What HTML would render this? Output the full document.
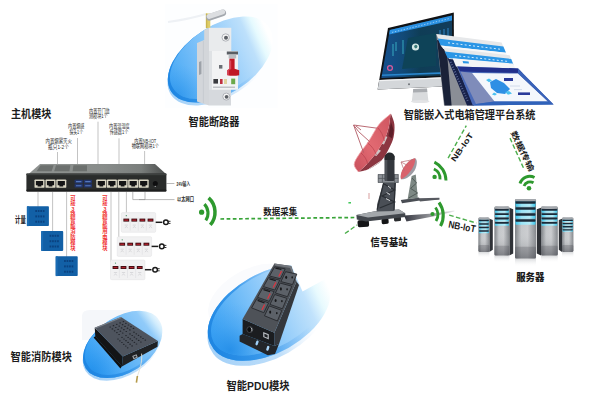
<!DOCTYPE html>
<html lang="zh">
<head>
<meta charset="utf-8">
<title>智能嵌入式电箱管理平台系统</title>
<style>
html,body{margin:0;padding:0;background:#fff;}
body{width:600px;height:400px;overflow:hidden;position:relative;font-family:"Liberation Sans","Noto Sans CJK SC",sans-serif;}
svg{position:absolute;left:0;top:0;display:block;}
text{font-family:"Liberation Sans","Noto Sans CJK SC",sans-serif;}
.t{font-weight:700;fill:#1c1c1c;}
.s{font-size:5.3px;fill:#2a2a2a;font-weight:400;}
.r{font-size:5.3px;fill:#f03030;font-weight:700;}
</style>
</head>
<body>
<svg width="600" height="400" viewBox="0 0 600 400">
<defs>
  <linearGradient id="gR1" gradientUnits="userSpaceOnUse" x1="168" y1="85" x2="270.7" y2="40.4">
    <stop offset="0" stop-color="#43a6f5"/>
    <stop offset="0.15" stop-color="#59b1f6"/>
    <stop offset="0.3" stop-color="#70bbf8"/>
    <stop offset="0.45" stop-color="#86c6f9"/>
    <stop offset="0.6" stop-color="#9cd0fa"/>
    <stop offset="0.75" stop-color="#b3dbfb"/>
    <stop offset="0.82" stop-color="#bde0fb"/>
    <stop offset="0.91" stop-color="#e6fafe"/>
    <stop offset="1.0" stop-color="#ffffff"/>
  </linearGradient>
  <linearGradient id="gD1" gradientUnits="userSpaceOnUse" x1="168" y1="85" x2="270.7" y2="40.4">
    <stop offset="0" stop-color="#1f86e2" stop-opacity="1"/>
    <stop offset="0.35" stop-color="#2f92e8" stop-opacity="0.8"/>
    <stop offset="0.75" stop-color="#7ab9f6" stop-opacity="0"/>
  </linearGradient>
  <linearGradient id="gB1" gradientUnits="userSpaceOnUse" x1="168" y1="85" x2="270.7" y2="40.4">
    <stop offset="0" stop-color="#a6d2f8" stop-opacity="1"/>
    <stop offset="0.45" stop-color="#b8dbf9" stop-opacity="0.9"/>
    <stop offset="0.8" stop-color="#e8f2fd" stop-opacity="0"/>
  </linearGradient>
  <linearGradient id="gR2" gradientUnits="userSpaceOnUse" x1="88" y1="368" x2="162.6" y2="314.2">
    <stop offset="0" stop-color="#2a9bf4"/>
    <stop offset="0.15" stop-color="#3ea4f5"/>
    <stop offset="0.3" stop-color="#52adf6"/>
    <stop offset="0.45" stop-color="#66b7f7"/>
    <stop offset="0.6" stop-color="#79c0f8"/>
    <stop offset="0.75" stop-color="#8dc9f9"/>
    <stop offset="0.78" stop-color="#91cbf9"/>
    <stop offset="0.88" stop-color="#d0ecfd"/>
    <stop offset="0.98" stop-color="#ffffff"/>
  </linearGradient>
  <linearGradient id="gD2" gradientUnits="userSpaceOnUse" x1="88" y1="368" x2="162.6" y2="314.2">
    <stop offset="0" stop-color="#1f86e2" stop-opacity="1"/>
    <stop offset="0.35" stop-color="#2f92e8" stop-opacity="0.8"/>
    <stop offset="0.75" stop-color="#7ab9f6" stop-opacity="0"/>
  </linearGradient>
  <linearGradient id="gB2" gradientUnits="userSpaceOnUse" x1="88" y1="368" x2="162.6" y2="314.2">
    <stop offset="0" stop-color="#a6d2f8" stop-opacity="1"/>
    <stop offset="0.45" stop-color="#b8dbf9" stop-opacity="0.9"/>
    <stop offset="0.8" stop-color="#e8f2fd" stop-opacity="0"/>
  </linearGradient>
  <linearGradient id="gR3" gradientUnits="userSpaceOnUse" x1="212" y1="345" x2="330.6" y2="291.6">
    <stop offset="0" stop-color="#36a0f5"/>
    <stop offset="0.15" stop-color="#50adf6"/>
    <stop offset="0.3" stop-color="#6ab9f7"/>
    <stop offset="0.45" stop-color="#84c5f9"/>
    <stop offset="0.6" stop-color="#9ed1fa"/>
    <stop offset="0.75" stop-color="#b8defb"/>
    <stop offset="0.8" stop-color="#c1e2fc"/>
    <stop offset="0.9" stop-color="#e8fafe"/>
    <stop offset="1.0" stop-color="#ffffff"/>
  </linearGradient>
  <linearGradient id="gD3" gradientUnits="userSpaceOnUse" x1="212" y1="345" x2="330.6" y2="291.6">
    <stop offset="0" stop-color="#1f86e2" stop-opacity="1"/>
    <stop offset="0.35" stop-color="#2f92e8" stop-opacity="0.8"/>
    <stop offset="0.75" stop-color="#7ab9f6" stop-opacity="0"/>
  </linearGradient>
  <linearGradient id="gB3" gradientUnits="userSpaceOnUse" x1="212" y1="345" x2="330.6" y2="291.6">
    <stop offset="0" stop-color="#a6d2f8" stop-opacity="1"/>
    <stop offset="0.45" stop-color="#b8dbf9" stop-opacity="0.9"/>
    <stop offset="0.8" stop-color="#e8f2fd" stop-opacity="0"/>
  </linearGradient>
  <radialGradient id="gO1" gradientUnits="userSpaceOnUse" cx="176" cy="98" r="34">
    <stop offset="0" stop-color="#1f8ae6" stop-opacity="0.6"/>
    <stop offset="0.5" stop-color="#2a92ea" stop-opacity="0.3"/>
    <stop offset="1" stop-color="#3a9cf0" stop-opacity="0"/>
  </radialGradient>
  <radialGradient id="gO2" gradientUnits="userSpaceOnUse" cx="92" cy="372" r="30">
    <stop offset="0" stop-color="#1f8ae6" stop-opacity="0.6"/>
    <stop offset="0.5" stop-color="#2a92ea" stop-opacity="0.3"/>
    <stop offset="1" stop-color="#3a9cf0" stop-opacity="0"/>
  </radialGradient>
  <radialGradient id="gO3" gradientUnits="userSpaceOnUse" cx="230" cy="350" r="48">
    <stop offset="0" stop-color="#1f8ae6" stop-opacity="0.8"/>
    <stop offset="0.5" stop-color="#2a92ea" stop-opacity="0.3"/>
    <stop offset="1" stop-color="#3a9cf0" stop-opacity="0"/>
  </radialGradient>
  <g id="wifi" fill="none" stroke="#2f9a2f" stroke-linecap="butt">
    <circle cx="0" cy="0" r="2" fill="#2f9a2f" stroke="none"/>
    <path d="M-3.5 -3.5 A4.95 4.95 0 0 1 3.5 -3.5" stroke-width="2.3"/>
    <path d="M-6.4 -6.4 A9.05 9.05 0 0 1 6.4 -6.4" stroke-width="2.3"/>
    <path d="M-9.3 -9.3 A13.15 13.15 0 0 1 9.3 -9.3" stroke-width="2.3"/>
  </g>
</defs>
<rect width="600" height="400" fill="#fff"/>
<!-- ellipses -->
<g id="ell-breaker">
  <path d="M165 4H277.6V108H165Z" fill="#fdfeff"/>
  <path d="M168 22Q190 19 206 14" stroke="#eef1f5" stroke-width="2" fill="none"/>
  <path d="M170.8 94.5A58.2 33.9 -32.5 1 0 269.0 31.9A58.2 33.9 -32.5 1 0 170.8 94.5Z" fill="url(#gB1)"/>
  <path d="M171.1 91.5A58.2 33.9 -32.5 1 0 269.3 28.9A58.2 33.9 -32.5 1 0 171.1 91.5Z" fill="url(#gR1)"/>
  <path d="M171.1 91.5A58.2 33.9 -32.5 1 0 269.3 28.9A58.2 33.9 -32.5 1 0 171.1 91.5Z" fill="url(#gD1)"/>
  <path d="M173.3 88.3A56.800000000000004 31.9 -32.5 1 0 269.1 27.3A56.800000000000004 31.9 -32.5 1 0 173.3 88.3Z" fill="url(#gR1)"/>
  <path d="M173.3 88.3A56.800000000000004 31.9 -32.5 1 0 269.1 27.3A56.800000000000004 31.9 -32.5 1 0 173.3 88.3Z" fill="url(#gO1)"/>
</g>
<g id="ell-fire">
  <path d="M82 316Q82 310 90 310H130V340H82Z" fill="#f5f7fa"/>
  <path d="M85.5 371.0A43.5 27.6 -32.2 1 0 159.1 324.6A43.5 27.6 -32.2 1 0 85.5 371.0Z" fill="url(#gB2)"/>
  <path d="M85.8 368.4A43.5 27.6 -32.2 1 0 159.4 322.0A43.5 27.6 -32.2 1 0 85.8 368.4Z" fill="url(#gR2)"/>
  <path d="M85.8 368.4A43.5 27.6 -32.2 1 0 159.4 322.0A43.5 27.6 -32.2 1 0 85.8 368.4Z" fill="url(#gD2)"/>
  <path d="M88.0 365.2A42.1 25.6 -32.2 1 0 159.2 320.4A42.1 25.6 -32.2 1 0 88.0 365.2Z" fill="url(#gR2)"/>
  <path d="M88.0 365.2A42.1 25.6 -32.2 1 0 159.2 320.4A42.1 25.6 -32.2 1 0 88.0 365.2Z" fill="url(#gO2)"/>
</g>
<g id="ell-pdu">
  <ellipse cx="250" cy="296" rx="46" ry="26" fill="#fafbfd" transform="rotate(-30 250 296)"/>
  <path d="M211.3 350.4A66.1 38.4 -29.5 1 0 326.3 285.4A66.1 38.4 -29.5 1 0 211.3 350.4Z" fill="url(#gB3)"/>
  <path d="M211.6 345.4A66.1 38.4 -29.5 1 0 326.6 280.4A66.1 38.4 -29.5 1 0 211.6 345.4Z" fill="url(#gR3)"/>
  <path d="M211.6 345.4A66.1 38.4 -29.5 1 0 326.6 280.4A66.1 38.4 -29.5 1 0 211.6 345.4Z" fill="url(#gD3)"/>
  <path d="M213.8 342.4A64.69999999999999 36.4 -29.5 1 0 326.4 278.6A64.69999999999999 36.4 -29.5 1 0 213.8 342.4Z" fill="url(#gR3)"/>
  <path d="M213.8 342.4A64.69999999999999 36.4 -29.5 1 0 326.4 278.6A64.69999999999999 36.4 -29.5 1 0 213.8 342.4Z" fill="url(#gO3)"/>
  <polygon points="290,262 302.5,291.4 340,271 340,250 290,250" fill="#ffffff"/>
</g>
<!-- titles -->
<g class="t">
<text x="11" y="117.6" font-size="10.8" textLength="40.3" lengthAdjust="spacingAndGlyphs">主机模块</text>
<text x="188.5" y="126" font-size="10.8" textLength="51" lengthAdjust="spacingAndGlyphs">智能断路器</text>
<text x="403.7" y="119" font-size="10.8" textLength="131.8" lengthAdjust="spacingAndGlyphs">智能嵌入式电箱管理平台系统</text>
<text x="370.6" y="246.3" font-size="10" textLength="37" lengthAdjust="spacingAndGlyphs" font-weight="900">信号基站</text>
<text x="516.2" y="280.6" font-size="10" textLength="28.2" lengthAdjust="spacingAndGlyphs" font-weight="900">服务器</text>
<text x="10.6" y="361.2" font-size="10.8" textLength="61.3" lengthAdjust="spacingAndGlyphs">智能消防模块</text>
<text x="226.5" y="390.4" font-size="10.8" textLength="63" lengthAdjust="spacingAndGlyphs">智能PDU模块</text>
<text x="263.3" y="215.3" font-size="9" textLength="33.8" lengthAdjust="spacingAndGlyphs" font-weight="700">数据采集</text>
</g>
<!-- switch -->
<defs>
  <linearGradient id="gSwTop" gradientUnits="userSpaceOnUse" x1="28" y1="0" x2="166" y2="0">
    <stop offset="0" stop-color="#8f9391"/>
    <stop offset="0.55" stop-color="#888c8a"/>
    <stop offset="0.82" stop-color="#7a7e7c"/>
    <stop offset="0.93" stop-color="#5c5f5e"/>
    <stop offset="1" stop-color="#4a4d4c"/>
  </linearGradient>
</defs>
<g id="switch">
  <polygon points="40,164 155,164 166,174 28.6,174" fill="url(#gSwTop)"/>
  <g fill="#6c706e">
    <polygon points="40.6,165.2 53.6,165.2 51.6,171.2 36.6,171.2"/>
    <polygon points="56,165.2 70.4,165.2 69.4,171.2 54.2,171.2"/>
    <polygon points="73.4,165.2 87,165.2 87,171.2 72.6,171.2"/>
  </g>
  <rect x="26.4" y="173.6" width="140" height="18" rx="0.8" fill="#2a2c2b"/>
  <rect x="26.4" y="173.6" width="140" height="1.6" fill="#3d403f"/>
  <rect x="26.4" y="189.6" width="140" height="2" rx="0.8" fill="#1c1d1d"/>
  <g id="rj">
    <rect x="34.5" y="179.4" width="10" height="8.4" rx="0.9" fill="#dcd8c6"/>
    <path d="M35.9 181h7.2v4.2h-1.7v1.4h-3.8v-1.4h-1.7z" fill="#151516"/>
  </g>
  <use href="#rj" x="11"/><use href="#rj" x="21.8"/>
  <use href="#rj" x="61.8"/><use href="#rj" x="72.4"/><use href="#rj" x="83.1"/><use href="#rj" x="93.7"/><use href="#rj" x="104.2"/>
  <g fill="#22346a">
    <rect x="74.6" y="179.8" width="8.2" height="3.6" rx="0.5"/><rect x="83.8" y="179.8" width="8.2" height="3.6" rx="0.5"/>
    <rect x="74.6" y="184" width="8.2" height="3.6" rx="0.5"/><rect x="83.8" y="184" width="8.2" height="3.6" rx="0.5"/>
  </g>
  <path d="M76 181.6h5.4M85.2 181.6h5.4M76 185.8h5.4M85.2 185.8h5.4" stroke="#5578bc" stroke-width="1.1" fill="none"/>
  <circle cx="155.3" cy="183.4" r="2.5" fill="#0e0e0f"/>
  <circle cx="155.3" cy="186.4" r="0.7" fill="#9a9c9f"/>
</g>
<!-- swlabels -->
<g id="sw-lines" stroke="#9a9a9a" stroke-width="0.6" fill="none">
  <path d="M57.5 152V165M77.5 138V164M98 121.7V164M119 138.3V164M144.6 151V164"/>
  <path d="M38 192V207M52.6 192V232M66.6 192V257"/>
  <path d="M111 192V262M118.8 192V238M126.4 192V214"/>
  <path d="M132.8 192V199.6H145V192M139 199.6H174.5M166 183.5H174.4" stroke="#8a8a8a"/>
</g>
<g class="s">
  <text x="45.6" y="143.25" textLength="26.3" lengthAdjust="spacingAndGlyphs">内置烟雾灭火</text>
  <text x="48.1" y="148.85" textLength="20.7" lengthAdjust="spacingAndGlyphs">瓶只1-2个</text>
  <text x="68.1" y="128.25" textLength="16.3" lengthAdjust="spacingAndGlyphs">内置烟感</text>
  <text x="69.4" y="133.85" textLength="13.7" lengthAdjust="spacingAndGlyphs">探头1个</text>
  <text x="89" y="113.15" textLength="20.7" lengthAdjust="spacingAndGlyphs">内置开门监</text>
  <text x="89" y="118.45" textLength="18.7" lengthAdjust="spacingAndGlyphs">测模块1个</text>
  <text x="109" y="128.45" textLength="20.7" lengthAdjust="spacingAndGlyphs">内置温湿度</text>
  <text x="109.7" y="133.75" textLength="18.6" lengthAdjust="spacingAndGlyphs">传感器1个</text>
  <text x="134.3" y="143.15" textLength="22.0" lengthAdjust="spacingAndGlyphs">内置NB-IOT</text>
  <text x="131.7" y="148.45" textLength="27.3" lengthAdjust="spacingAndGlyphs">物联网模块1个</text>
  <text x="176.5" y="185.6" textLength="13.5" lengthAdjust="spacingAndGlyphs" font-weight="700">24V输入</text>
  <text x="177" y="201.2" textLength="17" lengthAdjust="spacingAndGlyphs" font-weight="700">以太网口</text>
</g>
<text x="15" y="222.6" font-size="8.6" font-weight="700" fill="#222" textLength="10.8" lengthAdjust="spacingAndGlyphs">计量</text>
<g class="r">
  <text text-anchor="middle" x="73 73 73 73 73 73 73 73 73 73" y="199.5 205.1 210.7 216.3 221.9 227.5 233.1 238.7 244.3 249.9">可接3路智能消防模块</text>
  <text text-anchor="middle" x="105 105 105 105 105 105 105 105 105 105" y="199.5 205.1 210.7 216.3 221.9 227.5 233.1 238.7 244.3 249.9">可接3路智能用电模块</text>
</g>
<!-- sensors -->
<g id="sensors">
  <g id="sensor" transform="translate(26.9,206.3)">
    <rect x="0" y="0" width="22" height="19.8" rx="0.8" fill="#1260a6"/>
    <rect x="0" y="0" width="2" height="19.8" fill="#1a6cb4"/>
    <g fill="#0a4280">
      <rect x="8.4" y="3.7" width="1.7" height="2"/><rect x="10.9" y="3.7" width="1.7" height="2"/><rect x="13.4" y="3.7" width="1.7" height="2"/><rect x="15.9" y="3.7" width="1.7" height="2"/>
      <rect x="8.4" y="9.1" width="1.7" height="2"/><rect x="10.9" y="9.1" width="1.7" height="2"/><rect x="13.4" y="9.1" width="1.7" height="2"/><rect x="15.9" y="9.1" width="1.7" height="2"/>
      <rect x="8.4" y="14.4" width="1.7" height="2"/><rect x="10.9" y="14.4" width="1.7" height="2"/><rect x="13.4" y="14.4" width="1.7" height="2"/><rect x="15.9" y="14.4" width="1.7" height="2"/>
    </g>
  </g>
  <use href="#sensor" transform="translate(14.3,24.8)"/>
  <use href="#sensor" transform="translate(28.8,50)"/>
</g>
<!-- strips -->
<g id="strips">
  <g id="strip" transform="translate(121.3,212.6)">
    <rect x="0" y="0" width="34.4" height="19.7" rx="1.2" fill="#f1f1f2" stroke="#e0e0e3" stroke-width="0.5"/>
    <circle cx="5" cy="3.1" r="0.6" fill="#3a8a5a"/>
    <g fill="#3a0d12">
      <rect x="2.1" y="6" width="5.8" height="3"/><rect x="10.1" y="6" width="5.8" height="3"/>
      <rect x="18.2" y="6" width="5.8" height="3"/><rect x="26.3" y="6" width="5.8" height="3"/>
    </g>
    <g fill="#b3202c">
      <rect x="3" y="6.9" width="4" height="1.3"/><rect x="11" y="6.9" width="4" height="1.3"/>
      <rect x="19.1" y="6.9" width="4" height="1.3"/><rect x="27.2" y="6.9" width="4" height="1.3"/>
    </g>
    <g fill="none" stroke="#c9c9cc" stroke-width="0.6">
      <path d="M3.4 12.5h3.2M3.6 15.5l1.4 -1.8l1.4 1.8M11.4 12.5h3.2M11.6 15.5l1.4 -1.8l1.4 1.8M19.5 12.5h3.2M19.7 15.5l1.4 -1.8l1.4 1.8M27.6 12.5h3.2M27.8 15.5l1.4 -1.8l1.4 1.8"/>
      <path d="M8.9 5v13M17 5v13M25.1 5v13" stroke="#dedee0"/>
    </g>
    <path d="M34.4 9.7H41" stroke="#1a1a1a" stroke-width="1.5" fill="none"/>
    <circle cx="44.6" cy="9.7" r="2.3" fill="#fff" stroke="#1a1a1a" stroke-width="1.5"/>
    <path d="M47 8.7h2.2M47 10.8h2.2" stroke="#1a1a1a" stroke-width="0.9"/>
  </g>
  <use href="#strip" transform="translate(-4.1,24.1)"/>
  <use href="#strip" transform="translate(-10.8,47.4)"/>
</g>
<!-- breaker -->
<g id="breaker">
  <!-- antenna -->
  <rect x="205.9" y="13.5" width="4.4" height="14.6" fill="#dfcd68"/>
  <rect x="205.9" y="13.5" width="1.4" height="14.6" fill="#c9b550"/>
  <path d="M209.4 17.4L222.8 12.8" stroke="#a4a8ae" stroke-width="6.6" stroke-linecap="round" fill="none"/>
  <path d="M209.2 16.4L222.6 11.8" stroke="#dcdee1" stroke-width="5" stroke-linecap="round" fill="none"/>
  <!-- left side face -->
  <polygon points="204.2,30 209,27.8 209,105.5 197,101.5 197,43 204.2,40" fill="#d3d6da"/>
  <polygon points="199,62 201.4,61 201.4,74 199,75" fill="#9da2a9"/>
  <path d="M203.4 41V103" stroke="#bec2c8" stroke-width="0.6" fill="none"/>
  <!-- upper body -->
  <rect x="209" y="27.8" width="22.3" height="24" fill="#e9ebed"/>
  <!-- lower body -->
  <rect x="209" y="89" width="22" height="16.5" fill="#d6d9dd"/>
  <!-- middle body -->
  <rect x="211" y="51" width="27" height="38.8" rx="1" fill="#f2f3f4"/>
  <rect x="209" y="51" width="3" height="38.8" fill="#dfe2e5"/>
  <rect x="226.8" y="51.5" width="11.2" height="3" fill="#5a5e64"/>
  <path d="M229.4 58.4h5.2v10.4l4.6 1.4v5q-6 1.2 -12 0v-5l2.2 -1.4z" fill="#c01826"/><path d="M229.6 60.4h1.6v8.6l-2.4 1.4v4.6h-1.6v-4.8l2.4 -1.2z" fill="#d8485a"/>
  <rect x="228.6" y="54.6" width="7.6" height="3.8" fill="#b9bcc1"/>
  <rect x="219" y="65" width="3.4" height="3.6" fill="#6a6e74"/>
  <rect x="213.4" y="79" width="4.6" height="4.6" fill="#3a3c40"/>
  <rect x="220" y="79" width="2.6" height="5" fill="#c03040"/>
  <rect x="224" y="79" width="3" height="5" fill="#e0d4a0"/>
  <rect x="231.2" y="78.6" width="4" height="5.6" fill="#6aa84a"/>
  <rect x="213" y="86.6" width="22" height="1.2" fill="#b3b7bc"/>
  <!-- screws -->
  <circle cx="225.7" cy="37.5" r="3.7" fill="#f6f6f6" stroke="#a9adb3" stroke-width="0.9"/>
  <circle cx="226" cy="37.7" r="2" fill="#5c6066"/>
  <circle cx="226.3" cy="96.6" r="3.5" fill="#f6f6f6" stroke="#a9adb3" stroke-width="0.9"/>
  <circle cx="226.6" cy="96.8" r="1.9" fill="#5c6066"/>
</g>
<!-- monitors -->
<defs>
  <linearGradient id="gScr" x1="0" y1="0" x2="1" y2="0">
    <stop offset="0" stop-color="#15508e"/>
    <stop offset="0.3" stop-color="#124a78"/>
    <stop offset="0.55" stop-color="#0f3d56"/>
    <stop offset="1" stop-color="#123d5c"/>
  </linearGradient>
</defs>
<g id="monitors">
  <!-- iMac stand -->
  <polygon points="413.2,89 427,88.4 428.4,101 411.8,101.4" fill="#d9dbdd"/>
  <polygon points="413.2,89 427,88.4 427.3,92 413,92.6" fill="#a9acb0"/>
  <ellipse cx="420.2" cy="101.6" rx="9.4" ry="1.5" fill="#e3e4e6"/>
  <!-- iMac body -->
  <polygon points="388,28 453.8,12.4 454,86 377.6,89.6" fill="#111316"/>
  <polygon points="379.4,80 454,76.8 454,86 377.6,89.6" fill="#d4d7da"/>
  <polygon points="379.4,80 454,76.8 454,78 379.2,81.2" fill="#f2f3f4"/>
  <circle cx="409" cy="84.2" r="1" fill="#6f7378"/>
  <!-- iMac screen -->
  <polygon points="389.8,30 452,15.4 452.2,75 381.4,78" fill="url(#gScr)"/>
  <polygon points="389.8,30 452,15.4 452,20.4 389.2,34.6" fill="#2a90e2"/>
  <path d="M392 32.4L450 18.4" stroke="#bfe0f8" stroke-width="0.7" stroke-dasharray="1.4 1.6" fill="none"/>
  <polygon points="382,74.4 452.2,71.8 452.2,73.4 381.8,76" fill="#2a86cc"/>
  <polygon points="408,38 436,33 436,66 402,69" fill="#0e4358"/>
  <ellipse cx="415.5" cy="47" rx="3.6" ry="3.6" fill="#d3e8e6"/>
  <ellipse cx="415.8" cy="46.6" rx="1.6" ry="1.8" fill="#3a7a78"/>
  <circle cx="390" cy="68" r="2.4" fill="none" stroke="#d85a9a" stroke-width="1.3"/>
  <path d="M393 44v12M396 42v9M403 40v14" stroke="#3fc0d0" stroke-width="1" fill="none" opacity="0.8"/>
  <path d="M440 30v28M444 29v20M448 28v30" stroke="#2b78b4" stroke-width="1.2" fill="none"/>
  <!-- window stack sidebars -->
  <polygon points="436.2,34.2 446,35.6 474,105.6 444,105.6" fill="#8a8e96"/>
  <polygon points="437,40 446,41.6 451.6,105.6 444.6,105.6" fill="#1a2238"/>
  <polygon points="446.6,56 452.6,57 474,105.6 467,105.6" fill="#17214a"/>
  <path d="M450.6 62l17.6 40" stroke="#5d6a96" stroke-width="2" stroke-dasharray="0.9 1.7" fill="none"/>
  <!-- window 1 -->
  <polygon points="436.2,34 501.6,42.4 505.6,52.4 441.4,46" fill="#e6e8ea"/>
  <polygon points="437.8,38.6 503.4,46.6 506,52.8 440.6,45.4" fill="#2b96e6"/>
  <path d="M448 42.8L500 49.2" stroke="#d2ebfc" stroke-width="1" stroke-dasharray="2 2.2" fill="none"/>
  <polygon points="440.6,45.4 506,52.8 507.6,56.8 443.4,49" fill="#f7f8f9"/>
  <!-- window 2 -->
  <polygon points="443,47.4 509.6,55.2 513.4,64.6 449,59" fill="#e6e8ea"/>
  <polygon points="444.6,51.6 511.2,59 513.4,64.4 447.6,58" fill="#2b96e6"/>
  <path d="M455 55.6L508 61.4" stroke="#d2ebfc" stroke-width="1" stroke-dasharray="2 2.2" fill="none"/>
  <!-- window 3 -->
  <polygon points="452.6,58.2 512.8,63.6 515.6,69 456,66.6" fill="#f3f4f6"/>
  <polygon points="462.6,61 468.6,61.5 469,63.6 463.2,63.2" fill="#2b96e6"/>
  <!-- window 4 -->
  <polygon points="457.3,66.4 518,68.4 553.6,104.4 472.8,105.6" fill="#4a6ab8"/>
  <polygon points="457.3,66.4 518,68.4 522.4,73 460.4,71.6" fill="#22308c"/>
  <polygon points="460.4,71.6 472,73 494.5,101.4 476,104" fill="#7f8cba"/>
  <polygon points="472,73 518,73.5 548,101.4 494.5,101.4" fill="#f4f7fc"/>
  <polygon points="518,68.4 553.6,104.4 548,101.4 518,73.5" fill="#3a62b8"/>
  <polygon points="472.8,105.6 553.6,104.4 548,101.4 494.5,101.4 476,104" fill="#2f62ba"/>
  <path d="M490 82l6 -3l8 4l6 6l-5 5l-8 -1l-6 -5z" fill="#2e8fe4"/>
  <path d="M486 80l3 -1.4l3 2l-3 1.6zM505 92l4 -1l3 2.4l-4 1.4zM494 92.6l3 1.4l-2 1.6l-3 -1.2z" fill="#4ac0f0"/>
  <rect x="504" y="78" width="9" height="3" fill="#2a3a9a"/>
  <rect x="518" y="92.4" width="12" height="2.6" fill="#2a3a9a"/>
  <path d="M510 86h10M514 89.6h8" stroke="#c9d3e6" stroke-width="0.8" fill="none"/>
</g>
<!-- dish -->
<defs>
  <linearGradient id="gDish" x1="0" y1="1" x2="1" y2="0">
    <stop offset="0" stop-color="#c8505c"/>
    <stop offset="0.45" stop-color="#e26a72"/>
    <stop offset="1" stop-color="#cf5560"/>
  </linearGradient>
  <linearGradient id="gShadow" x1="0" y1="0" x2="1" y2="0">
    <stop offset="0" stop-color="#2a2c36" stop-opacity="0.95"/>
    <stop offset="1" stop-color="#2a2c36" stop-opacity="0.1"/>
  </linearGradient>
</defs>
<g id="dish-small">
  <polygon points="418,198.2 439.4,197.8 439.4,199.4 420,201.6" fill="#3c3e46" opacity="0.85"/>
  <polygon points="400.8,200 419,197.6 420,200.6 402,203.2" fill="#4a4e54"/>
  <polygon points="411.6,176 415.8,174.6 417.8,198 407.6,199.2" fill="#7d8884"/>
  <path d="M412 178l4.6 5l-6 5.4l7 4.6l-9 5" stroke="#4c5652" stroke-width="0.9" fill="none"/>
  <path d="M415.2 158.2C417.6 159.4 417.4 165 414.6 170.4C411.4 175.8 405.6 179.6 401 179.2C399.6 174 404 165.6 409.6 161C411.8 159.2 413.8 158.2 415.2 158.2Z" fill="#9c9ca4"/>
  <path d="M415.2 158.2C415.6 162.6 413 168.6 408.6 173.4C405.6 176.6 402.8 178.6 401 179.2C399.4 174.6 403.2 166 409 161.2C411.6 159.2 413.6 158.2 415.2 158.2Z" fill="#d8626c"/>
  <path d="M401 162L413 159.6M401 162L404.4 171M401 162L408 165.6" stroke="#b86a72" stroke-width="0.7" fill="none"/>
</g>
<g id="dish-big">
  <polygon points="404,215.4 433,213.4 454.4,210.4 454.4,211.6 433,216.6 406.5,221.6" fill="url(#gShadow)"/>
  <path d="M420 200.2L439.4 199" stroke="#55585e" stroke-width="0.9" fill="none"/>
  <rect x="357.6" y="220" width="11.4" height="7" rx="1.8" fill="#141517" transform="rotate(-4 363 223.5)"/>
  <rect x="381.6" y="218.6" width="7" height="5.4" rx="1.4" fill="#141517" transform="rotate(-4 385 221)"/>
  <rect x="394" y="216.6" width="7" height="4.6" rx="1.2" fill="#2a2c2f" transform="rotate(-4 398 219)"/>
  <polygon points="356.4,215 375,211.2 399,209.6 405.2,213.2 405.4,217 366,221.6 356.8,219.6" fill="#43474d"/>
  <polygon points="356.4,215 375,211.2 399,209.6 405.2,213.2 368,217.4" fill="#a3a7ab"/>
  <polygon points="383.4,182.4 396,182.4 394.4,211 376.6,211.6 377.2,204" fill="#4a4f56"/>
  <path d="M384 184L394.8 190L382 196L394.6 202L379.6 208M395 183L394 210M383.6 183L377.2 209.6" stroke="#2a2e33" stroke-width="1.2" fill="none"/><path d="M388 186l3 2.4M386.6 192.6l3.4 2M386 198.6l4 2" stroke="#e8eaec" stroke-width="0.9" fill="none"/>
  <rect x="378" y="174.4" width="20.4" height="8.2" fill="#8e9298"/>
  <path d="M378 174.6H398.4M378 178.4H398.4M378 182.4H398.4M378.2 174.4V182.6M382.4 174.4V182.6M394.6 174.4V182.6M398.2 174.4V182.6" stroke="#565a60" stroke-width="0.8" fill="none"/>
  <rect x="384.7" y="155" width="9.8" height="26" rx="1.5" fill="#33373d"/>
  <rect x="384.7" y="155" width="2.6" height="26" fill="#4d5157"/>
  <path d="M384.6 157C385 151.6 393.4 150.6 394.6 156.4L394.5 160H384.7Z" fill="#26292d"/>
  <path d="M390.5 114.0C390.7 114.2 391.0 113.5 391.6 115.2C392.2 117.0 394.1 120.9 394.4 124.5C394.7 128.1 394.5 133.0 393.6 137.0C392.7 141.0 391.1 144.5 389.0 148.5C386.9 152.5 384.3 157.6 381.0 161.0C377.7 164.4 372.8 167.2 369.0 169.0C365.2 170.8 360.2 171.5 358.5 172.0C359.9 170.7 363.9 167.3 367.0 164.0C370.1 160.7 373.7 156.5 376.8 152.0C379.9 147.5 383.4 141.6 385.5 137.0C387.6 132.4 388.4 128.3 389.2 124.5C390.0 120.7 390.3 115.8 390.5 114.0Z" fill="#8c3641"/>
  <path d="M387.4 137l-3.4 7.4l-4.4 -1.4l-2.6 5.6l4 2.2l-4.6 5.2l-5 -2l3 -6l4 -6l4.6 -7.4z" fill="#cfc4c5"/>
  <path d="M391 122l2.6 8l-1.4 8.6l-3.8 -2.6z" fill="#5e1f29"/>
  <path d="M369 169L381 161" stroke="#dccfd0" stroke-width="1" fill="none"/>
  <path d="M390.5 114.0C388.6 115.8 382.6 120.0 379.0 124.5C375.4 129.0 372.3 135.8 369.0 140.8C365.7 145.8 361.5 150.6 359.0 154.5C356.5 158.4 354.3 161.6 354.2 164.5C354.1 167.4 357.8 170.8 358.5 172.0C359.9 170.7 363.9 167.3 367.0 164.0C370.1 160.7 373.7 156.5 376.8 152.0C379.9 147.5 383.4 141.6 385.5 137.0C387.6 132.4 388.4 128.3 389.2 124.5C390.0 120.7 390.3 115.8 390.5 114.0Z" fill="url(#gDish)"/>
  <path d="M390.5 114.0C388.6 115.8 382.6 120.0 379.0 124.5C375.4 129.0 372.3 135.8 369.0 140.8C365.7 145.8 361.5 150.6 359.0 154.5C356.5 158.4 354.3 161.6 354.2 164.5C354.1 167.4 357.8 170.8 358.5 172.0" stroke="#f0a4aa" stroke-width="0.8" fill="none"/>
  <path d="M377.5 127.5C381 131 383.5 136 384.4 141M367.6 143C372 146 375 151 376.4 155M361 153C364.6 156 367 160 367.6 164" stroke="#b8404c" stroke-width="0.7" fill="none"/>
  <path d="M353.6 125L377 128.2M353.6 125L363.6 152.6M353.6 125L358.6 131.6L369.6 141.6M356 126L361 130" stroke="#b25a64" stroke-width="0.9" fill="none"/>
  <path d="M369 193v6" stroke="#e0b4b4" stroke-width="1.3" fill="none"/>
  <path d="M348.4 202.8h2.6" stroke="#2ec24a" stroke-width="1.4" fill="none"/>
</g>
<!-- servers -->
<defs>
  <linearGradient id="gSrvH" x1="0" y1="0" x2="1" y2="0">
    <stop offset="0" stop-color="#6e7277"/>
    <stop offset="0.3" stop-color="#bfc2c5"/>
    <stop offset="0.6" stop-color="#c6c8cb"/>
    <stop offset="1" stop-color="#777b80"/>
  </linearGradient>
  <linearGradient id="gSrvV" x1="0" y1="0" x2="0" y2="1">
    <stop offset="0" stop-color="#6a6e74" stop-opacity="0.3"/>
    <stop offset="0.55" stop-color="#ffffff" stop-opacity="0.1"/>
    <stop offset="1" stop-color="#55595f" stop-opacity="0.45"/>
  </linearGradient>
  <linearGradient id="gCyan" x1="0" y1="0" x2="1" y2="0">
    <stop offset="0" stop-color="#38c4ea"/>
    <stop offset="0.3" stop-color="#9ae4f6"/>
    <stop offset="0.7" stop-color="#b4ecf8"/>
    <stop offset="1" stop-color="#38c4ea"/>
  </linearGradient>
  <linearGradient id="gRefl" x1="0" y1="0" x2="0" y2="1">
    <stop offset="0" stop-color="#b9bcc0" stop-opacity="0.55"/>
    <stop offset="1" stop-color="#ffffff" stop-opacity="0"/>
  </linearGradient>
</defs>
<g id="servers">
  <rect x="478.4" y="252" width="11" height="6" fill="url(#gRefl)"/>
  <rect x="562" y="252" width="11.4" height="6" fill="url(#gRefl)"/>
  <rect x="494.4" y="255.6" width="15" height="7" fill="url(#gRefl)"/>
  <rect x="541" y="255.6" width="16.8" height="7" fill="url(#gRefl)"/>
  <rect x="515" y="258.6" width="21" height="8" fill="url(#gRefl)"/>
  <polygon points="489.4,218.7 492.79999999999995,220.1 492.79999999999995,249.8 489.4,252" fill="#2f3237"/>
  <rect x="478.4" y="217.5" width="11.0" height="34.5" rx="1.6" fill="url(#gSrvH)"/>
  <rect x="478.4" y="217.5" width="11.0" height="34.5" rx="1.6" fill="url(#gSrvV)"/>
  <rect x="478.4" y="245.1" width="11.0" height="6.9" rx="1.2" fill="#4a4d52" opacity="0.28"/>
  <rect x="478.4" y="217.5" width="11.0" height="2" rx="1" fill="#a4a8ad"/>
  <rect x="478.9" y="219.8" width="10.0" height="2.9" rx="0.9" fill="url(#gCyan)"/>
  <rect x="478.9" y="219.8" width="10.0" height="1.5" rx="0.8" fill="#1c2a38"/>
  <rect x="478.9" y="223.3" width="10.0" height="2.9" rx="0.9" fill="url(#gCyan)"/>
  <rect x="478.9" y="223.3" width="10.0" height="1.5" rx="0.8" fill="#1c2a38"/>
  <rect x="478.9" y="226.8" width="10.0" height="2.9" rx="0.9" fill="url(#gCyan)"/>
  <rect x="478.9" y="226.8" width="10.0" height="1.5" rx="0.8" fill="#1c2a38"/>
  <rect x="478.9" y="230.3" width="10.0" height="2.9" rx="0.9" fill="url(#gCyan)"/>
  <rect x="478.9" y="230.3" width="10.0" height="1.5" rx="0.8" fill="#1c2a38"/>
  <polygon points="562,218.7 558.8,220.1 558.8,249.8 562,252" fill="#2f3237"/>
  <rect x="562" y="217.5" width="11.4" height="34.5" rx="1.6" fill="url(#gSrvH)"/>
  <rect x="562" y="217.5" width="11.4" height="34.5" rx="1.6" fill="url(#gSrvV)"/>
  <rect x="562" y="245.1" width="11.4" height="6.9" rx="1.2" fill="#4a4d52" opacity="0.28"/>
  <rect x="562" y="217.5" width="11.4" height="2" rx="1" fill="#a4a8ad"/>
  <rect x="562.5" y="219.8" width="10.4" height="2.5" rx="0.9" fill="url(#gCyan)"/>
  <rect x="562.5" y="219.8" width="10.4" height="1.3" rx="0.8" fill="#1c2a38"/>
  <rect x="562.5" y="222.9" width="10.4" height="2.5" rx="0.9" fill="url(#gCyan)"/>
  <rect x="562.5" y="222.9" width="10.4" height="1.3" rx="0.8" fill="#1c2a38"/>
  <rect x="562.5" y="226.1" width="10.4" height="2.5" rx="0.9" fill="url(#gCyan)"/>
  <rect x="562.5" y="226.1" width="10.4" height="1.3" rx="0.8" fill="#1c2a38"/>
  <rect x="562.5" y="229.2" width="10.4" height="2.5" rx="0.9" fill="url(#gCyan)"/>
  <rect x="562.5" y="229.2" width="10.4" height="1.3" rx="0.8" fill="#1c2a38"/>
  <polygon points="509.4,207.79999999999998 513.1999999999999,209.2 513.1999999999999,253.4 509.4,255.6" fill="#2f3237"/>
  <rect x="494.4" y="206.6" width="15.0" height="49.0" rx="1.6" fill="url(#gSrvH)"/>
  <rect x="494.4" y="206.6" width="15.0" height="49.0" rx="1.6" fill="url(#gSrvV)"/>
  <rect x="494.4" y="245.8" width="15.0" height="9.8" rx="1.2" fill="#4a4d52" opacity="0.28"/>
  <rect x="494.4" y="206.6" width="15.0" height="2" rx="1" fill="#a4a8ad"/>
  <rect x="494.9" y="208.9" width="14.0" height="3.8" rx="0.9" fill="url(#gCyan)"/>
  <rect x="494.9" y="208.9" width="14.0" height="1.8" rx="0.8" fill="#1c2a38"/>
  <rect x="494.9" y="213.2" width="14.0" height="3.8" rx="0.9" fill="url(#gCyan)"/>
  <rect x="494.9" y="213.2" width="14.0" height="1.8" rx="0.8" fill="#1c2a38"/>
  <rect x="494.9" y="217.6" width="14.0" height="3.8" rx="0.9" fill="url(#gCyan)"/>
  <rect x="494.9" y="217.6" width="14.0" height="1.8" rx="0.8" fill="#1c2a38"/>
  <rect x="494.9" y="222.0" width="14.0" height="3.8" rx="0.9" fill="url(#gCyan)"/>
  <rect x="494.9" y="222.0" width="14.0" height="1.8" rx="0.8" fill="#1c2a38"/>
  <polygon points="541,207.79999999999998 536.8,209.2 536.8,253.4 541,255.6" fill="#2f3237"/>
  <rect x="541" y="206.6" width="16.8" height="49.0" rx="1.6" fill="url(#gSrvH)"/>
  <rect x="541" y="206.6" width="16.8" height="49.0" rx="1.6" fill="url(#gSrvV)"/>
  <rect x="541" y="245.8" width="16.8" height="9.8" rx="1.2" fill="#4a4d52" opacity="0.28"/>
  <rect x="541" y="206.6" width="16.8" height="2" rx="1" fill="#a4a8ad"/>
  <rect x="541.5" y="208.9" width="15.8" height="3.8" rx="0.9" fill="url(#gCyan)"/>
  <rect x="541.5" y="208.9" width="15.8" height="1.8" rx="0.8" fill="#1c2a38"/>
  <rect x="541.5" y="213.2" width="15.8" height="3.8" rx="0.9" fill="url(#gCyan)"/>
  <rect x="541.5" y="213.2" width="15.8" height="1.8" rx="0.8" fill="#1c2a38"/>
  <rect x="541.5" y="217.6" width="15.8" height="3.8" rx="0.9" fill="url(#gCyan)"/>
  <rect x="541.5" y="217.6" width="15.8" height="1.8" rx="0.8" fill="#1c2a38"/>
  <rect x="541.5" y="222.0" width="15.8" height="3.8" rx="0.9" fill="url(#gCyan)"/>
  <rect x="541.5" y="222.0" width="15.8" height="1.8" rx="0.8" fill="#1c2a38"/>
  <rect x="515" y="199" width="21.0" height="59.6" rx="1.6" fill="url(#gSrvH)"/>
  <rect x="515" y="199" width="21.0" height="59.6" rx="1.6" fill="url(#gSrvV)"/>
  <rect x="515" y="246.7" width="21.0" height="11.9" rx="1.2" fill="#4a4d52" opacity="0.28"/>
  <rect x="515" y="199" width="21.0" height="2" rx="1" fill="#a4a8ad"/>
  <rect x="515.5" y="201.3" width="20.0" height="5.4" rx="0.9" fill="url(#gCyan)"/>
  <rect x="515.5" y="201.3" width="20.0" height="2.5" rx="0.8" fill="#1c2a38"/>
  <rect x="515.5" y="207.3" width="20.0" height="5.4" rx="0.9" fill="url(#gCyan)"/>
  <rect x="515.5" y="207.3" width="20.0" height="2.5" rx="0.8" fill="#1c2a38"/>
  <rect x="515.5" y="213.3" width="20.0" height="5.4" rx="0.9" fill="url(#gCyan)"/>
  <rect x="515.5" y="213.3" width="20.0" height="2.5" rx="0.8" fill="#1c2a38"/>
  <rect x="515.5" y="219.3" width="20.0" height="5.4" rx="0.9" fill="url(#gCyan)"/>
  <rect x="515.5" y="219.3" width="20.0" height="2.5" rx="0.8" fill="#1c2a38"/>
</g>
<!-- firebox -->
<g id="firebox">
  <polygon points="93.6,337.4 95.3,336.3 121.9,366.3 120.4,368.4" fill="#0e0f10"/>
  <polygon points="94.7,327.8 122.8,356.5 121.9,366.6 95.3,336.6" fill="#131416"/>
  <polygon points="122.8,356.5 157.9,341 157.5,346.8 121.9,366.6" fill="#1f2124"/>
  <polygon points="94.7,327.8 121,317.1 157.9,341 122.8,356.5" fill="#4e545e"/>
  <polygon points="94.7,327.8 121,317.1 122,317.8 96,328.6" fill="#7a808a"/>
  <g fill="#22252b"><ellipse cx="110.2" cy="327.0" rx="0.85" ry="0.6"/><ellipse cx="113.5" cy="325.7" rx="0.85" ry="0.6"/><ellipse cx="116.8" cy="324.3" rx="0.85" ry="0.6"/><ellipse cx="120.1" cy="322.9" rx="0.85" ry="0.6"/><ellipse cx="123.4" cy="321.6" rx="0.85" ry="0.6"/><ellipse cx="112.4" cy="328.9" rx="0.85" ry="0.6"/><ellipse cx="115.8" cy="327.5" rx="0.85" ry="0.6"/><ellipse cx="119.2" cy="326.1" rx="0.85" ry="0.6"/><ellipse cx="122.6" cy="324.7" rx="0.85" ry="0.6"/><ellipse cx="125.9" cy="323.3" rx="0.85" ry="0.6"/><ellipse cx="114.6" cy="330.8" rx="0.85" ry="0.6"/><ellipse cx="118.1" cy="329.3" rx="0.85" ry="0.6"/><ellipse cx="121.6" cy="327.9" rx="0.85" ry="0.6"/><ellipse cx="125.0" cy="326.4" rx="0.85" ry="0.6"/><ellipse cx="128.5" cy="325.0" rx="0.85" ry="0.6"/><ellipse cx="116.9" cy="332.6" rx="0.85" ry="0.6"/><ellipse cx="120.4" cy="331.2" rx="0.85" ry="0.6"/><ellipse cx="123.9" cy="329.7" rx="0.85" ry="0.6"/><ellipse cx="127.5" cy="328.2" rx="0.85" ry="0.6"/><ellipse cx="131.0" cy="326.7" rx="0.85" ry="0.6"/><ellipse cx="119.1" cy="334.5" rx="0.85" ry="0.6"/><ellipse cx="122.7" cy="333.0" rx="0.85" ry="0.6"/><ellipse cx="126.3" cy="331.5" rx="0.85" ry="0.6"/><ellipse cx="129.9" cy="329.9" rx="0.85" ry="0.6"/><ellipse cx="133.5" cy="328.4" rx="0.85" ry="0.6"/><ellipse cx="118.0" cy="339.0" rx="0.85" ry="0.6"/><ellipse cx="122.0" cy="337.3" rx="0.85" ry="0.6"/><ellipse cx="126.0" cy="335.6" rx="0.85" ry="0.6"/><ellipse cx="130.0" cy="333.9" rx="0.85" ry="0.6"/><ellipse cx="134.0" cy="332.2" rx="0.85" ry="0.6"/><ellipse cx="119.9" cy="340.8" rx="0.85" ry="0.6"/><ellipse cx="124.0" cy="339.0" rx="0.85" ry="0.6"/><ellipse cx="128.1" cy="337.3" rx="0.85" ry="0.6"/><ellipse cx="132.2" cy="335.5" rx="0.85" ry="0.6"/><ellipse cx="136.3" cy="333.8" rx="0.85" ry="0.6"/><ellipse cx="121.9" cy="342.5" rx="0.85" ry="0.6"/><ellipse cx="126.0" cy="340.7" rx="0.85" ry="0.6"/><ellipse cx="130.2" cy="338.9" rx="0.85" ry="0.6"/><ellipse cx="134.4" cy="337.1" rx="0.85" ry="0.6"/><ellipse cx="138.5" cy="335.3" rx="0.85" ry="0.6"/><ellipse cx="123.8" cy="344.3" rx="0.85" ry="0.6"/><ellipse cx="128.1" cy="342.4" rx="0.85" ry="0.6"/><ellipse cx="132.3" cy="340.6" rx="0.85" ry="0.6"/><ellipse cx="136.5" cy="338.8" rx="0.85" ry="0.6"/><ellipse cx="140.8" cy="336.9" rx="0.85" ry="0.6"/><ellipse cx="125.8" cy="346.0" rx="0.85" ry="0.6"/><ellipse cx="130.1" cy="344.2" rx="0.85" ry="0.6"/><ellipse cx="134.4" cy="342.3" rx="0.85" ry="0.6"/><ellipse cx="138.7" cy="340.4" rx="0.85" ry="0.6"/><ellipse cx="143.0" cy="338.5" rx="0.85" ry="0.6"/><ellipse cx="127.7" cy="347.8" rx="0.85" ry="0.6"/><ellipse cx="132.1" cy="345.9" rx="0.85" ry="0.6"/><ellipse cx="136.5" cy="344.0" rx="0.85" ry="0.6"/><ellipse cx="140.9" cy="342.0" rx="0.85" ry="0.6"/><ellipse cx="145.3" cy="340.1" rx="0.85" ry="0.6"/></g>
  <rect x="132.8" y="355" width="4.6" height="3.6" fill="#a9adb2" transform="rotate(-22 135 357)"/>
  <rect x="133.8" y="355.9" width="2.6" height="1.8" fill="#2a2c2f" transform="rotate(-22 135 357)"/>
  <path d="M141.6 353.6C142.6 362 139 372 137.4 376" stroke="#e4e2d8" stroke-width="0.9" fill="none"/>
  <path d="M137.4 376L136.4 382.6" stroke="#b59a4a" stroke-width="1.6" fill="none"/>
</g>
<!-- pdu -->
<g id="pdu">
  <polygon points="239.6,335.8 242.6,334 274.4,346 279,344 275,354 267.8,355.2 239.6,341.4" fill="#23262a"/>
  <rect x="255.8" y="340.4" width="2.4" height="5" rx="1.1" fill="#9fd0f8" transform="rotate(18 257 343)"/>
  <rect x="266.6" y="345.8" width="2.4" height="5" rx="1.1" fill="#a9d5f9" transform="rotate(18 267.8 348.4)"/>
  <polygon points="274.4,332.8 296.5,281.5 299,285 279,344 274.4,346" fill="#34373c"/>
  <polygon points="242.6,319 274.4,332.8 274.4,346 242.6,334" fill="#1b1d20"/>
  <polygon points="242.6,319 274.4,263.6 291.2,266 296.5,281.5 274.4,332.8" fill="#4e5258"/>
  <polygon points="274.4,263.6 291.2,266 296.5,281.5 295,279.4 290,268 275,265.6" fill="#73777d"/>
  <polygon points="251.6,307.9 256.8,298.7 268.6,302.9 263.8,312.7" fill="#5c6168" stroke="#26282c" stroke-width="0.9"/><path d="M261.9 309.9L264.6 304.6" stroke="#e0343e" stroke-width="1.2"/><path d="M257.6 300.3L264.5 302.8" stroke="#1a1b1e" stroke-width="1.3"/><polygon points="264.5,315.8 269.2,305.9 281.8,310.4 277.4,321.0" fill="#5c6168" stroke="#26282c" stroke-width="0.9"/><ellipse cx="270.2" cy="312.1" rx="1" ry="1.6" fill="#17181a"/><ellipse cx="276.8" cy="313.2" rx="0.8" ry="1.1" fill="#17181a"/><polygon points="257.5,297.3 262.7,288.0 274.1,291.6 269.3,301.4" fill="#5c6168" stroke="#26282c" stroke-width="0.9"/><path d="M267.6 298.7L270.2 293.4" stroke="#e0343e" stroke-width="1.2"/><path d="M263.5 289.6L270.1 291.7" stroke="#1a1b1e" stroke-width="1.3"/><polygon points="270.0,304.4 274.7,294.5 286.8,298.3 282.4,308.8" fill="#5c6168" stroke="#26282c" stroke-width="0.9"/><ellipse cx="275.6" cy="300.5" rx="1" ry="1.6" fill="#17181a"/><ellipse cx="281.9" cy="301.2" rx="0.8" ry="1.1" fill="#17181a"/><polygon points="263.5,286.6 268.7,277.4 279.7,280.2 274.9,290.1" fill="#5c6168" stroke="#26282c" stroke-width="0.9"/><path d="M273.2 287.5L275.9 282.2" stroke="#e0343e" stroke-width="1.2"/><path d="M269.4 278.9L275.8 280.6" stroke="#1a1b1e" stroke-width="1.3"/><polygon points="275.4,293.0 280.2,283.1 291.8,286.2 287.5,296.7" fill="#5c6168" stroke="#26282c" stroke-width="0.9"/><ellipse cx="280.9" cy="288.9" rx="1" ry="1.6" fill="#17181a"/><ellipse cx="287.1" cy="289.3" rx="0.8" ry="1.1" fill="#17181a"/><polygon points="269.5,276.0 274.7,266.8 285.2,268.9 280.4,278.8" fill="#5c6168" stroke="#26282c" stroke-width="0.9"/><path d="M278.8 276.4L281.5 271.1" stroke="#e0343e" stroke-width="1.2"/><path d="M275.4 268.2L281.4 269.4" stroke="#1a1b1e" stroke-width="1.3"/><polygon points="280.9,281.6 285.6,271.7 296.8,274.1 292.5,284.6" fill="#5c6168" stroke="#26282c" stroke-width="0.9"/><ellipse cx="286.2" cy="277.3" rx="1" ry="1.6" fill="#17181a"/><ellipse cx="292.2" cy="277.4" rx="0.8" ry="1.1" fill="#17181a"/>
  <circle cx="249.8" cy="329.6" r="3" fill="#0b0c0d" stroke="#4a4e54" stroke-width="0.8"/>
  <path d="M250.6 327.4a2.6 2.6 0 0 1 0.6 4" stroke="#c9cdd2" stroke-width="1" fill="none"/>
  <rect x="263.2" y="333" width="5.6" height="5.2" fill="#b9bdc2" transform="skewY(23) translate(0,-112.8)"/>
  <rect x="264.4" y="334.2" width="3.2" height="2.8" fill="#1d1f22" transform="skewY(23) translate(0,-112.8)"/>
</g>
<!-- links -->
<g id="links" stroke="#4cae4c" stroke-width="1.4" fill="none" stroke-dasharray="4.6 2.4">
  <path d="M220.4 219L356 217.5" stroke="#38a438" stroke-width="1.7" stroke-dasharray="3.7 2.5"/>
  <path d="M448.1 158.1L466.3 125.6"/>
  <path d="M449.2 215.1L476.3 223"/>
  <path d="M510 138.1L524.4 170"/>
  <path d="M345 233.5L357 225"/>
</g>
<g id="wifis" fill="none" stroke="#2e992e" stroke-linecap="butt">
  <circle cx="201.6" cy="212.2" r="2.6" fill="#2e992e" stroke="none"/>
  <path d="M204.4 204.1A13.0 13.0 0 0 1 205.8 220.4" stroke-width="3.1"/>
  <path d="M208.6 197.9A19.3 19.3 0 0 1 210.3 224.9" stroke-width="3.5"/>
  <circle cx="434.6" cy="176.9" r="2.2" fill="#2e992e" stroke="none"/>
  <path d="M433.9 168.9A10.6 10.6 0 0 1 440.0 179.4" stroke-width="2.8"/>
  <path d="M434.4 162.1A20.6 20.6 0 0 1 446.0 180.5" stroke-width="2.9"/>
  <circle cx="432.5" cy="214" r="2.1" fill="#2e992e" stroke="none"/>
  <path d="M435.5 207.5A12.1 12.1 0 0 1 436.0 221.0" stroke-width="2.8"/>
  <path d="M439.0 202.5A21.8 21.8 0 0 1 440.5 226.0" stroke-width="3.1"/>
  <circle cx="529" cy="188.2" r="2.3" fill="#2e992e" stroke="none"/>
  <path d="M524.0 186.0A6.5 6.5 0 0 1 533.5 182.8" stroke-width="2.8"/>
  <path d="M520.0 183.5A10.1 10.1 0 0 1 534.5 177.5" stroke-width="2.9"/>
</g>
<text class="t" font-size="8" transform="translate(455,162.3) rotate(-55.4)" textLength="33" lengthAdjust="spacingAndGlyphs">NB-IoT</text>
<text class="t" font-size="10" transform="translate(447.9,227.6) rotate(10.2)" textLength="27.5" lengthAdjust="spacingAndGlyphs">NB-IoT</text>
<text class="t" font-size="7.8" font-weight="900" transform="translate(510.6,132.5) rotate(64.4)" textLength="44" lengthAdjust="spacingAndGlyphs">数据传输</text>
</svg>
</body>
</html>
